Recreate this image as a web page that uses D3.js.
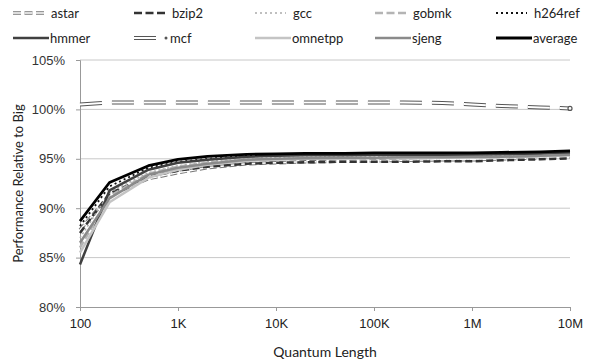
<!DOCTYPE html>
<html>
<head>
<meta charset="utf-8">
<script src="https://cdn.jsdelivr.net/npm/d3@7"></script>
<style>
  body { margin: 0; background: #fff; }
  svg { font-family: Lato, "Open Sans", sans-serif; }
</style>
</head>
<body>
<svg id="chart" width="598" height="362"></svg>
<script>
const quantum = [100, 200, 500, 1e3, 2e3, 5e3, 1e4, 2e4, 5e4, 1e5, 2e5, 5e5, 1e6, 2e6, 5e6, 1e7];
const xTicks = [100, 1e3, 1e4, 1e5, 1e6, 1e7];
const xTickLabels = ["100", "1K", "10K", "100K", "1M", "10M"];
const yTicks = [0.80, 0.85, 0.90, 0.95, 1.00, 1.05];

const astar   = [87.8, 91.3, 93.0, 93.6, 94.1, 94.5, 94.6, 94.7, 94.75, 94.8, 94.85, 94.9, 94.9, 95.0, 95.1, 95.2];
const bzip2   = [87.5, 91.5, 93.2, 93.8, 94.2, 94.5, 94.6, 94.65, 94.7, 94.7, 94.7, 94.75, 94.75, 94.85, 94.95, 95.05];
const gcc     = [87.0, 91.6, 93.6, 94.3, 94.7, 95.0, 95.1, 95.15, 95.2, 95.2, 95.25, 95.25, 95.3, 95.3, 95.35, 95.45];
const gobmk   = [86.0, 91.2, 93.5, 94.2, 94.6, 94.9, 95.0, 95.05, 95.1, 95.1, 95.15, 95.15, 95.2, 95.2, 95.3, 95.4];
const h264ref = [88.2, 92.2, 94.1, 94.7, 95.0, 95.3, 95.35, 95.4, 95.4, 95.45, 95.45, 95.45, 95.5, 95.5, 95.55, 95.6];
const hmmer   = [84.3, 91.8, 93.9, 94.6, 94.9, 95.2, 95.3, 95.35, 95.35, 95.4, 95.4, 95.4, 95.4, 95.45, 95.5, 95.6];
const mcf     = [100.5, 100.7, 100.7, 100.7, 100.7, 100.7, 100.7, 100.7, 100.7, 100.7, 100.7, 100.65, 100.5, 100.35, 100.2, 100.1];
const omnetpp = [85.5, 90.6, 93.1, 93.9, 94.4, 94.8, 94.9, 95.0, 95.0, 95.05, 95.05, 95.1, 95.1, 95.15, 95.25, 95.35];
const sjeng   = [86.5, 91.0, 93.4, 94.1, 94.5, 94.9, 95.0, 95.05, 95.1, 95.1, 95.15, 95.15, 95.2, 95.2, 95.3, 95.4];
const average = [88.7, 92.6, 94.3, 94.95, 95.25, 95.45, 95.5, 95.55, 95.55, 95.6, 95.6, 95.6, 95.6, 95.65, 95.7, 95.8];

// draw order: light ones first, average on top
const series = [
  {name: "astar",   values: astar,   color: "#777", width: 3.5, dash: "7,3", hollow: true},
  {name: "bzip2",   values: bzip2,   color: "#333", width: 2.5, dash: "7,3.5"},
  {name: "gcc",     values: gcc,     color: "#aaa", width: 1.5, dash: "2,2.5"},
  {name: "gobmk",   values: gobmk,   color: "#b4b4b4", width: 2.5, dash: "7,3.5"},
  {name: "h264ref", values: h264ref, color: "#111", width: 1.8, dash: "2,3"},
  {name: "hmmer",   values: hmmer,   color: "#404040", width: 2.5},
  {name: "mcf",     values: mcf,     color: "#555", width: 4, dash: "22,10", hollow: true},
  {name: "omnetpp", values: omnetpp, color: "#c4c4c4", width: 2.5},
  {name: "sjeng",   values: sjeng,   color: "#8a8a8a", width: 2.5},
  {name: "average", values: average, color: "#000", width: 2.8}
];

const svg = d3.select("#chart");
const pl = 80, pr = 28, pt = 60, pb = 55;
const width = 598, height = 362;

const x = d3.scaleLog().domain([100, 1e7]).range([pl, width - pr]);
const y = d3.scaleLinear().domain([0.80, 1.05]).range([height - pb, pt]);

// grid
svg.append("g")
  .selectAll("line")
  .data(yTicks.slice(1))
  .join("line")
  .attr("x1", pl).attr("x2", width - pr)
  .attr("y1", d => y(d)).attr("y2", d => y(d))
  .attr("stroke", "#c8c8c8").attr("stroke-width", 1);

// y axis
const yAxis = svg.append("g")
  .attr("transform", `translate(${pl},0)`)
  .call(d3.axisLeft(y).tickValues(yTicks).tickFormat(d3.format(".0%")).tickSize(4).tickPadding(11));
yAxis.select(".domain").attr("stroke", "#999");
yAxis.selectAll(".tick line").attr("stroke", "#999");
yAxis.selectAll("text").attr("fill", "#333").style("font-size", "13px");

// x axis
const xAxis = svg.append("g")
  .attr("transform", `translate(0,${height - pb})`)
  .call(d3.axisBottom(x).tickValues(xTicks).tickFormat((d, i) => xTickLabels[i]).tickSize(4).tickPadding(8));
xAxis.select(".domain").attr("stroke", "#999");
xAxis.selectAll(".tick line").attr("stroke", "#999");
xAxis.selectAll("text").attr("fill", "#222").style("font-size", "13px");

svg.append("text")
  .attr("x", (pl + width - pr) / 2).attr("y", 352)
  .attr("dy", "0.35em")
  .attr("text-anchor", "middle")
  .attr("fill", "#222")
  .style("font-size", "14px")
  .text("Quantum Length");

svg.append("text")
  .attr("transform", `translate(18,${(pt + height - pb) / 2}) rotate(-90)`)
  .attr("dy", "0.35em")
  .attr("text-anchor", "middle")
  .attr("fill", "#222")
  .style("font-size", "13px")
  .text("Performance Relative to Big");

const line = d3.line()
  .x((d, i) => x(quantum[i]))
  .y(d => y(d / 100));

const lines = svg.append("g").attr("fill", "none");
series.forEach(s => {
  lines.append("path")
    .attr("d", line(s.values))
    .attr("stroke", s.color)
    .attr("stroke-width", s.width)
    .attr("stroke-dasharray", s.dash || null)
    .attr("stroke-linejoin", "round");
  if (s.hollow) {
    lines.append("path")
      .attr("d", line(s.values))
      .attr("stroke", "#fff")
      .attr("stroke-width", s.width - 2)
      .attr("stroke-dasharray", s.dash || null);
  }
});

// mcf end marker
const last = mcf.length - 1;
svg.append("circle")
  .attr("cx", x(quantum[last])).attr("cy", y(mcf[last] / 100))
  .attr("r", 2).attr("fill", "#fff").attr("stroke", "#555").attr("stroke-width", 1.2);

// legend
const legend = svg.append("g");
const colX = [13, 134, 255, 375, 496];
series.forEach((s, i) => {
  const lx = colX[i % 5], ly = i < 5 ? 13 : 38;
  const g = legend.append("g").attr("transform", `translate(${lx},${ly})`);
  const isMcf = s.name === "mcf";
  const len = isMcf ? 22 : (s.dash ? 31 : 36);
  const dash = isMcf ? null : (s.dash ? "8,3.5" : null);
  const ddash = s.dash && s.width < 2 ? "2,3" : dash;
  g.append("line")
    .attr("x1", 0).attr("x2", len)
    .attr("stroke", s.color)
    .attr("stroke-width", s.width)
    .attr("stroke-dasharray", ddash);
  if (s.hollow) {
    g.append("line")
      .attr("x1", 0).attr("x2", len)
      .attr("stroke", "#fff")
      .attr("stroke-width", s.width - 2)
      .attr("stroke-dasharray", ddash);
  }
  if (isMcf) {
    g.append("circle").attr("cx", 32).attr("cy", 0).attr("r", 1.5).attr("fill", "#555");
  }
  g.append("text")
    .attr("x", isMcf ? 36 : (s.dash ? 38 : 37))
    .attr("dy", "0.35em")
    .attr("fill", "#222")
    .style("font-size", "13px")
    .text(s.name);
});
</script>
</body>
</html>
